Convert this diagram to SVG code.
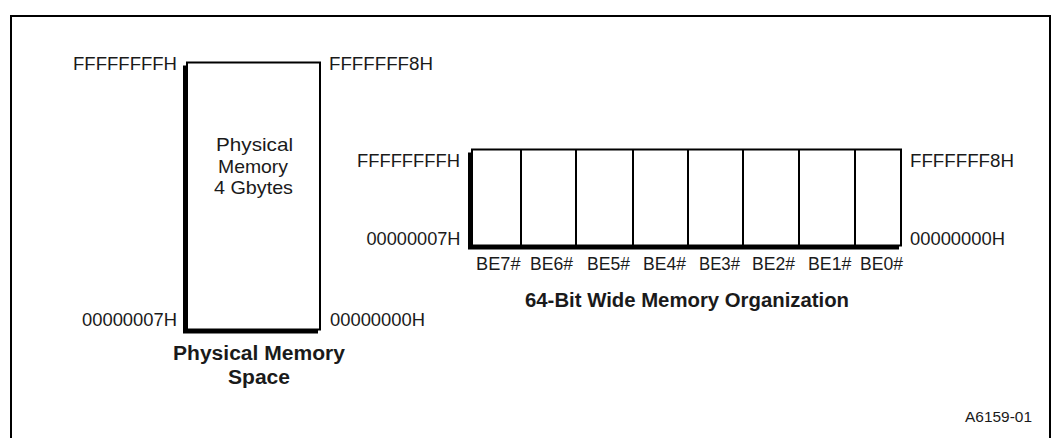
<svg xmlns="http://www.w3.org/2000/svg" width="1061" height="438" viewBox="0 0 1061 438">
<style>
.t{font-family:"Liberation Sans",Arial,sans-serif;font-size:17.5px;fill:#1a1a1a}
.m{font-family:"Liberation Sans",Arial,sans-serif;font-size:19px;fill:#1a1a1a}
.b{font-family:"Liberation Sans",Arial,sans-serif;font-size:19.5px;font-weight:bold;fill:#1a1a1a}
.s{font-family:"Liberation Sans",Arial,sans-serif;font-size:15px;fill:#1a1a1a}
.box{fill:#fff;stroke:#000;stroke-width:2}
.sh{fill:#000}
.div{stroke:#000;stroke-width:2}
</style>
<rect id="frame" x="11" y="16" width="1039" height="440" fill="none" stroke="#000" stroke-width="2"/>
<g id="physical-memory">
<rect class="sh" x="183" y="65.5" width="135" height="268"/>
<rect class="box" x="187" y="62.5" width="133" height="267"/>
<text class="m" x="216" y="151" textLength="77" lengthAdjust="spacingAndGlyphs">Physical</text>
<text class="m" x="218" y="172.5" textLength="70" lengthAdjust="spacingAndGlyphs">Memory</text>
<text class="m" x="214" y="194" textLength="79" lengthAdjust="spacingAndGlyphs">4 Gbytes</text>
<text class="t" x="73" y="70" textLength="104" lengthAdjust="spacingAndGlyphs">FFFFFFFFH</text>
<text class="t" x="329" y="70" textLength="104" lengthAdjust="spacingAndGlyphs">FFFFFFF8H</text>
<text class="t" x="82" y="326" textLength="95" lengthAdjust="spacingAndGlyphs">00000007H</text>
<text class="t" x="330" y="326" textLength="95" lengthAdjust="spacingAndGlyphs">00000000H</text>
<text class="b" x="173" y="360" textLength="172" lengthAdjust="spacingAndGlyphs">Physical Memory</text>
<text class="b" x="228" y="383.5" textLength="62" lengthAdjust="spacingAndGlyphs">Space</text>
</g>
<g id="memory-organization">
<rect class="sh" x="468" y="152.5" width="431" height="97"/>
<rect class="box" x="472" y="149.5" width="429" height="96"/>
<line class="div" x1="521" y1="149.5" x2="521" y2="245.5"/>
<line class="div" x1="576" y1="149.5" x2="576" y2="245.5"/>
<line class="div" x1="633" y1="149.5" x2="633" y2="245.5"/>
<line class="div" x1="688" y1="149.5" x2="688" y2="245.5"/>
<line class="div" x1="743" y1="149.5" x2="743" y2="245.5"/>
<line class="div" x1="799" y1="149.5" x2="799" y2="245.5"/>
<line class="div" x1="855" y1="149.5" x2="855" y2="245.5"/>
<text class="t" x="357" y="167" textLength="103" lengthAdjust="spacingAndGlyphs">FFFFFFFFH</text>
<text class="t" x="366.5" y="245" textLength="94" lengthAdjust="spacingAndGlyphs">00000007H</text>
<text class="t" x="910" y="167" textLength="104" lengthAdjust="spacingAndGlyphs">FFFFFFF8H</text>
<text class="t" x="910" y="245" textLength="95" lengthAdjust="spacingAndGlyphs">00000000H</text>
<text class="t" x="476" y="270" textLength="44.5" lengthAdjust="spacingAndGlyphs">BE7#</text>
<text class="t" x="530" y="270" textLength="43" lengthAdjust="spacingAndGlyphs">BE6#</text>
<text class="t" x="587" y="270" textLength="43" lengthAdjust="spacingAndGlyphs">BE5#</text>
<text class="t" x="643" y="270" textLength="43" lengthAdjust="spacingAndGlyphs">BE4#</text>
<text class="t" x="699" y="270" textLength="41" lengthAdjust="spacingAndGlyphs">BE3#</text>
<text class="t" x="752" y="270" textLength="43" lengthAdjust="spacingAndGlyphs">BE2#</text>
<text class="t" x="808" y="270" textLength="43.5" lengthAdjust="spacingAndGlyphs">BE1#</text>
<text class="t" x="860" y="270" textLength="43" lengthAdjust="spacingAndGlyphs">BE0#</text>
<text class="b" x="525" y="307" textLength="324" lengthAdjust="spacingAndGlyphs">64-Bit Wide Memory Organization</text>
</g>
<g id="figure-id">
<text class="s" x="965" y="422" textLength="67" lengthAdjust="spacingAndGlyphs">A6159-01</text>
</g>
</svg>
